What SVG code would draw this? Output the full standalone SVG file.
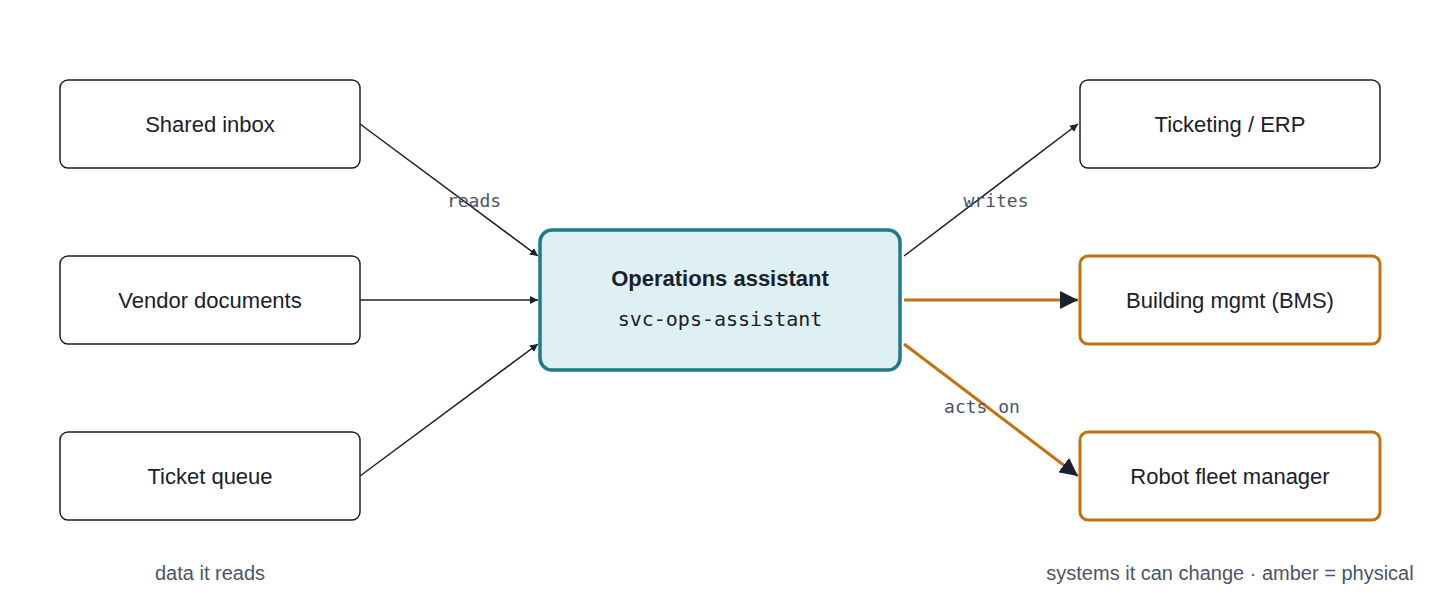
<svg xmlns="http://www.w3.org/2000/svg" width="1440" height="600" viewBox="0 0 1440 600">
<style>
.box{fill:#fff;stroke:#1a202c;stroke-width:1.5}
.amb{fill:#fff;stroke:#c27210;stroke-width:3}
.t{font-family:"Liberation Sans",Arial,sans-serif;font-size:22px;fill:#1a202c;text-anchor:middle}
.lbl{font-family:"DejaVu Sans Mono",monospace;font-size:18px;fill:#4a5568;text-anchor:middle}
.cap{font-family:"Liberation Sans",Arial,sans-serif;font-size:20px;fill:#4a5568;text-anchor:middle}
.ln{stroke:#1a202c;stroke-width:1.5;fill:none}
.la{stroke:#c27210;stroke-width:3;fill:none}
</style>
<defs>
<marker id="a" viewBox="0 0 10 10" refX="10" refY="5" markerWidth="8" markerHeight="8" markerUnits="userSpaceOnUse" orient="auto"><path d="M0,0L10,5L0,10z" fill="#1a202c"/></marker>
<marker id="b" viewBox="0 0 10 10" refX="10" refY="5" markerWidth="18" markerHeight="18" markerUnits="userSpaceOnUse" orient="auto"><path d="M0,0L10,5L0,10z" fill="#1a202c"/></marker>
</defs>
<rect width="1440" height="600" fill="#fff"/>
<g id="connectors">
<line class="ln" x1="360" y1="124" x2="538" y2="256" marker-end="url(#a)"/>
<line class="ln" x1="360" y1="300" x2="538" y2="300" marker-end="url(#a)"/>
<line class="ln" x1="360" y1="476" x2="538" y2="344" marker-end="url(#a)"/>
<line class="ln" x1="904" y1="256" x2="1078" y2="124" marker-end="url(#a)"/>
<line class="la" x1="904" y1="300" x2="1078" y2="300" marker-end="url(#b)"/>
<line class="la" x1="904" y1="344" x2="1078" y2="476" marker-end="url(#b)"/>
<text class="lbl" x="474" y="207">reads</text>
<text class="lbl" x="996" y="207">writes</text>
<text class="lbl" x="982" y="413">acts on</text>
</g>
<g id="shared-inbox"><rect class="box" x="60" y="80" width="300" height="88" rx="8"/><text class="t" x="210" y="132">Shared inbox</text></g>
<g id="vendor-docs"><rect class="box" x="60" y="256" width="300" height="88" rx="8"/><text class="t" x="210" y="308">Vendor documents</text></g>
<g id="ticket-queue"><rect class="box" x="60" y="432" width="300" height="88" rx="8"/><text class="t" x="210" y="484">Ticket queue</text></g>
<g id="assistant"><rect x="540" y="230" width="360" height="140" rx="12" fill="#dff0f4" stroke="#217a8a" stroke-width="3.5"/>
<text class="t" x="720" y="286" font-weight="bold" font-size="26">Operations assistant</text>
<text x="720" y="326" font-family="DejaVu Sans Mono,monospace" font-size="20" fill="#1a202c" text-anchor="middle">svc-ops-assistant</text></g>
<g id="ticketing"><rect class="box" x="1080" y="80" width="300" height="88" rx="8"/><text class="t" x="1230" y="132">Ticketing / ERP</text></g>
<g id="bms"><rect class="amb" x="1080" y="256" width="300" height="88" rx="8"/><text class="t" x="1230" y="308">Building mgmt (BMS)</text></g>
<g id="robots"><rect class="amb" x="1080" y="432" width="300" height="88" rx="8"/><text class="t" x="1230" y="484">Robot fleet manager</text></g>
<text class="cap" x="210" y="580">data it reads</text>
<text class="cap" x="1230" y="580">systems it can change · amber = physical</text>
</svg>
